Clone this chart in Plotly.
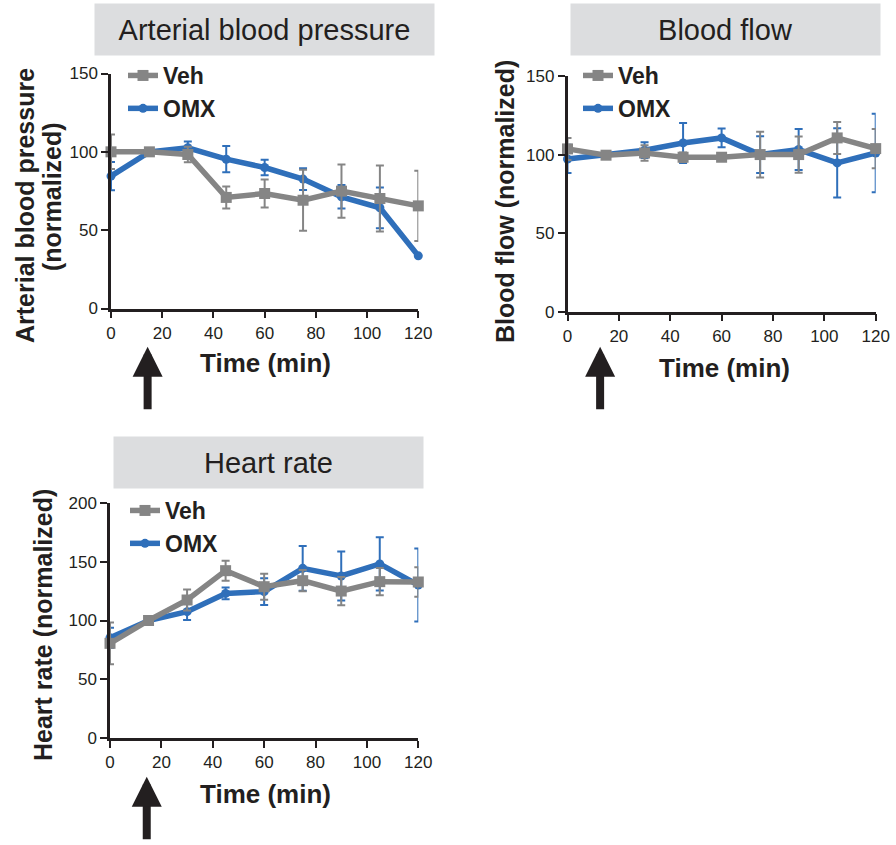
import plotly.graph_objects as go

# Sampling times (min)
time_min = [0, 15, 30, 45, 60, 75, 90, 105, 120]

# Arterial blood pressure (normalized, mean and SEM)
abp_veh = [100, 100, 98.3, 70.9, 73.4, 69.1, 74.9, 70.2, 65.5]
abp_veh_err = [11, None, 5, 7, 9, 19.5, 17, 21, 22.4]
abp_omx = [84.5, 100, 102.6, 95.3, 90, 82.6, 71.3, 64.3, 33.6]
abp_omx_err = [9, None, 4, 8.4, 5, 7, 7.5, 13, None]

# Blood flow (normalized)
bf_veh = [103.6, 99.6, 101, 98.3, 98.3, 100, 100, 110.6, 103.8]
bf_veh_err = [7, None, 5, 3, 2, 14.6, 11.5, 10.2, 12.5]
bf_omx = [97.2, 99.6, 102.8, 107.4, 110.6, 100, 103.2, 94.7, 101]
bf_omx_err = [9, None, 5, 12.7, 6, 11.7, 13, 22, 25]

# Heart rate (normalized)
hr_veh = [80.6, 100, 117.4, 142.3, 128.7, 133.8, 125, 133, 132.7]
hr_veh_err = [17.7, None, 9, 8.5, 11, 9, 12, 11.5, 12.5]
hr_omx = [85.4, 100, 107.5, 123, 124.5, 144.3, 137.8, 148, 130.1]
hr_omx_err = [8.5, None, 7, 5, 11.3, 19, 20.8, 22.6, 31]

panel_titles = ["Arterial blood pressure", "Blood flow", "Heart rate"]
x_title = "Time (min)"
x_ticks = [0, 20, 40, 60, 80, 100, 120]

W, H = 896, 845
FONT = "Liberation Sans, Arial, Helvetica, sans-serif"
INK = "#231f20"
GRAY = "#858585"
BLUE = "#2f6fba"


def fx(p):
    return p / W


def fy(p):
    return 1 - p / H


fig = go.Figure()

series = [
    ("x", "y", "legend", abp_veh, abp_veh_err, abp_omx, abp_omx_err),
    ("x2", "y2", "legend2", bf_veh, bf_veh_err, bf_omx, bf_omx_err),
    ("x3", "y3", "legend3", hr_veh, hr_veh_err, hr_omx, hr_omx_err),
]

for xa, ya, lg, veh, veh_e, omx, omx_e in series:
    # OMX drawn first so the vehicle trace sits on top
    fig.add_trace(go.Scatter(
        x=time_min, y=omx, name="OMX", xaxis=xa, yaxis=ya, legend=lg,
        mode="lines+markers", cliponaxis=False,
        line=dict(color=BLUE, width=5.5),
        marker=dict(symbol="circle", size=9, color=BLUE),
        error_y=dict(type="data", array=omx_e, color=BLUE, thickness=2, width=4),
    ))
    fig.add_trace(go.Scatter(
        x=time_min, y=veh, name="Veh", xaxis=xa, yaxis=ya, legend=lg,
        mode="lines+markers", cliponaxis=False,
        line=dict(color=GRAY, width=5.5),
        marker=dict(symbol="square", size=11, color=GRAY),
        error_y=dict(type="data", array=veh_e, color=GRAY, thickness=2, width=4),
    ))

axis_common = dict(
    showline=True, linecolor=INK, linewidth=2.5, ticks="outside", ticklen=7,
    tickwidth=2, tickcolor=INK, showgrid=False, zeroline=False,
    tickfont=dict(family=FONT, size=17, color=INK), automargin=False,
)

# plot areas in pixels: (left, right, top, bottom)
boxes = [(111, 418.3, 73.5, 308.5), (567.5, 875.7, 76, 311.7), (110, 418.3, 502.7, 738.3)]
ymax = [150, 150, 200]
layout_axes = {}
for i, ((l, r, t, b), ym) in enumerate(zip(boxes, ymax)):
    sfx = "" if i == 0 else str(i + 1)
    layout_axes["xaxis" + sfx] = dict(
        axis_common, domain=[fx(l), fx(r)], range=[0, 120], tickvals=x_ticks,
        anchor="y" + sfx, fixedrange=True)
    layout_axes["yaxis" + sfx] = dict(
        axis_common, domain=[fy(b), fy(t)], range=[0, ym], dtick=50,
        anchor="x" + sfx, fixedrange=True)

legend_common = dict(
    xanchor="left", yanchor="top", bgcolor="rgba(0,0,0,0)", traceorder="reversed",
    itemwidth=30, font=dict(family=FONT, size=23, color=INK, weight="bold"),
    tracegroupgap=0,
)

annotations = []
# grey header boxes: (center x, center y, width)
header_boxes = [(264, 29.5, 339), (725.5, 29.5, 309), (268.3, 462, 309)]
for txt, (cx, cy, bw) in zip(panel_titles, header_boxes):
    annotations.append(dict(
        text=txt, xref="paper", yref="paper", x=fx(cx), y=fy(cy),
        xanchor="center", yanchor="middle", showarrow=False,
        width=bw, height=51, bgcolor="#dcdddf", borderpad=0,
        font=dict(family=FONT, size=29, color=INK)))

# x-axis titles
for cx, cy in [(265, 363), (724, 368), (265, 794)]:
    annotations.append(dict(
        text=x_title, xref="paper", yref="paper", x=fx(cx), y=fy(cy),
        xanchor="center", yanchor="middle", showarrow=False,
        font=dict(family=FONT, size=26, color=INK, weight="bold")))

# y-axis titles
ytitles = [
    ("Arterial blood pressure", 25, 206),
    ("(normalized)", 52, 197),
    ("Blood flow (normalized)", 505, 202),
    ("Heart rate (normalized)", 43, 625),
]
for txt, cx, cy in ytitles:
    annotations.append(dict(
        text=txt, xref="paper", yref="paper", x=fx(cx), y=fy(cy),
        xanchor="center", yanchor="middle", showarrow=False, textangle=-90,
        font=dict(family=FONT, size=25, color=INK, weight="bold")))

# drug administration arrows (time of injection on each panel's axis)
dose_arrows = [("x", 14.3, 346.7), ("x2", 12.7, 346.7), ("x3", 14.3, 776.7)]
for xr, tx, tip in dose_arrows:
    annotations.append(dict(
        text="", xref=xr, yref="paper", x=tx, y=fy(tip), ax=0, ay=64,
        showarrow=True, arrowhead=2, arrowwidth=8, arrowsize=0.75,
        arrowcolor=INK, standoff=0))

fig.update_layout(
    width=W, height=H, margin=dict(l=0, r=0, t=0, b=0, autoexpand=False),
    paper_bgcolor="white", plot_bgcolor="white",
    font=dict(family=FONT, color=INK),
    legend=dict(legend_common, x=fx(123), y=fy(54)),
    legend2=dict(legend_common, x=fx(578), y=fy(54)),
    legend3=dict(legend_common, x=fx(125), y=fy(489)),
    annotations=annotations,
    **layout_axes,
)

fig.write_html("out.html")
